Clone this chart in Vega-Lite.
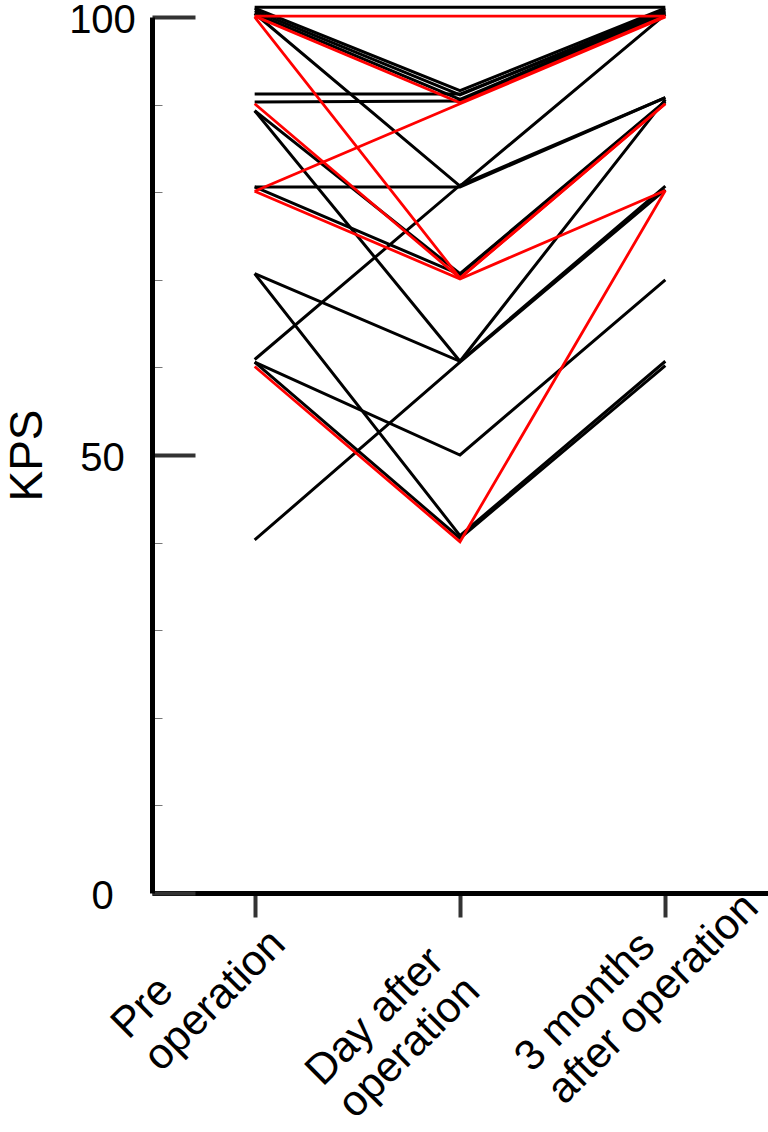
{
  "$schema": "https://vega.github.io/schema/vega-lite/v6.json",
  "width": 616,
  "height": 876,
  "autosize": "none",
  "padding": {"left": 152, "top": 17, "right": 0, "bottom": 239},
  "config": {"view": {"stroke": null}, "font": "Liberation Sans"},
  "data": {"values": [
    {"patient": 1, "group": "A", "time": "Pre operation", "step": 1, "kps": 101.1},
    {"patient": 1, "group": "A", "time": "Day after operation", "step": 2, "kps": 101.1},
    {"patient": 1, "group": "A", "time": "3 months after operation", "step": 3, "kps": 101.1},
    {"patient": 2, "group": "A", "time": "Pre operation", "step": 1, "kps": 101.0},
    {"patient": 2, "group": "A", "time": "Day after operation", "step": 2, "kps": 91.6},
    {"patient": 2, "group": "A", "time": "3 months after operation", "step": 3, "kps": 101.0},
    {"patient": 3, "group": "A", "time": "Pre operation", "step": 1, "kps": 100.7},
    {"patient": 3, "group": "A", "time": "Day after operation", "step": 2, "kps": 91.1},
    {"patient": 3, "group": "A", "time": "3 months after operation", "step": 3, "kps": 100.8},
    {"patient": 4, "group": "A", "time": "Pre operation", "step": 1, "kps": 100.4},
    {"patient": 4, "group": "A", "time": "Day after operation", "step": 2, "kps": 90.6},
    {"patient": 4, "group": "A", "time": "3 months after operation", "step": 3, "kps": 100.6},
    {"patient": 5, "group": "A", "time": "Pre operation", "step": 1, "kps": 100.4},
    {"patient": 5, "group": "A", "time": "Day after operation", "step": 2, "kps": 80.7},
    {"patient": 5, "group": "A", "time": "3 months after operation", "step": 3, "kps": 100.3},
    {"patient": 6, "group": "A", "time": "Pre operation", "step": 1, "kps": 91.2},
    {"patient": 6, "group": "A", "time": "Day after operation", "step": 2, "kps": 91.2},
    {"patient": 6, "group": "A", "time": "3 months after operation", "step": 3, "kps": 100.5},
    {"patient": 7, "group": "A", "time": "Pre operation", "step": 1, "kps": 90.3},
    {"patient": 7, "group": "A", "time": "Day after operation", "step": 2, "kps": 90.4},
    {"patient": 7, "group": "A", "time": "3 months after operation", "step": 3, "kps": 100.4},
    {"patient": 8, "group": "A", "time": "Pre operation", "step": 1, "kps": 89.3},
    {"patient": 8, "group": "A", "time": "Day after operation", "step": 2, "kps": 70.7},
    {"patient": 8, "group": "A", "time": "3 months after operation", "step": 3, "kps": 90.4},
    {"patient": 9, "group": "A", "time": "Pre operation", "step": 1, "kps": 89.3},
    {"patient": 9, "group": "A", "time": "Day after operation", "step": 2, "kps": 60.7},
    {"patient": 9, "group": "A", "time": "3 months after operation", "step": 3, "kps": 90.6},
    {"patient": 10, "group": "A", "time": "Pre operation", "step": 1, "kps": 80.6},
    {"patient": 10, "group": "A", "time": "Day after operation", "step": 2, "kps": 80.6},
    {"patient": 10, "group": "A", "time": "3 months after operation", "step": 3, "kps": 90.8},
    {"patient": 11, "group": "A", "time": "Pre operation", "step": 1, "kps": 80.6},
    {"patient": 11, "group": "A", "time": "Day after operation", "step": 2, "kps": 70.6},
    {"patient": 11, "group": "A", "time": "3 months after operation", "step": 3, "kps": 90.3},
    {"patient": 12, "group": "A", "time": "Pre operation", "step": 1, "kps": 70.7},
    {"patient": 12, "group": "A", "time": "Day after operation", "step": 2, "kps": 60.7},
    {"patient": 12, "group": "A", "time": "3 months after operation", "step": 3, "kps": 80.7},
    {"patient": 13, "group": "A", "time": "Pre operation", "step": 1, "kps": 70.7},
    {"patient": 13, "group": "A", "time": "Day after operation", "step": 2, "kps": 40.8},
    {"patient": 13, "group": "A", "time": "3 months after operation", "step": 3, "kps": 60.7},
    {"patient": 14, "group": "A", "time": "Pre operation", "step": 1, "kps": 60.9},
    {"patient": 14, "group": "A", "time": "Day after operation", "step": 2, "kps": 80.8},
    {"patient": 14, "group": "A", "time": "3 months after operation", "step": 3, "kps": 90.8},
    {"patient": 15, "group": "A", "time": "Pre operation", "step": 1, "kps": 60.6},
    {"patient": 15, "group": "A", "time": "Day after operation", "step": 2, "kps": 50.0},
    {"patient": 15, "group": "A", "time": "3 months after operation", "step": 3, "kps": 70.0},
    {"patient": 16, "group": "A", "time": "Pre operation", "step": 1, "kps": 60.6},
    {"patient": 16, "group": "A", "time": "Day after operation", "step": 2, "kps": 40.5},
    {"patient": 16, "group": "A", "time": "3 months after operation", "step": 3, "kps": 60.2},
    {"patient": 17, "group": "A", "time": "Pre operation", "step": 1, "kps": 40.3},
    {"patient": 17, "group": "A", "time": "Day after operation", "step": 2, "kps": 60.6},
    {"patient": 17, "group": "A", "time": "3 months after operation", "step": 3, "kps": 80.3},
    {"patient": 18, "group": "B", "time": "Pre operation", "step": 1, "kps": 100.1},
    {"patient": 18, "group": "B", "time": "Day after operation", "step": 2, "kps": 100.1},
    {"patient": 18, "group": "B", "time": "3 months after operation", "step": 3, "kps": 100.1},
    {"patient": 19, "group": "B", "time": "Pre operation", "step": 1, "kps": 100.1},
    {"patient": 19, "group": "B", "time": "Day after operation", "step": 2, "kps": 90.2},
    {"patient": 19, "group": "B", "time": "3 months after operation", "step": 3, "kps": 100.1},
    {"patient": 20, "group": "B", "time": "Pre operation", "step": 1, "kps": 80.1},
    {"patient": 20, "group": "B", "time": "Day after operation", "step": 2, "kps": 90.1},
    {"patient": 20, "group": "B", "time": "3 months after operation", "step": 3, "kps": 100.0},
    {"patient": 21, "group": "B", "time": "Pre operation", "step": 1, "kps": 100.0},
    {"patient": 21, "group": "B", "time": "Day after operation", "step": 2, "kps": 70.2},
    {"patient": 21, "group": "B", "time": "3 months after operation", "step": 3, "kps": 90.1},
    {"patient": 22, "group": "B", "time": "Pre operation", "step": 1, "kps": 90.1},
    {"patient": 22, "group": "B", "time": "Day after operation", "step": 2, "kps": 70.2},
    {"patient": 22, "group": "B", "time": "3 months after operation", "step": 3, "kps": 90.1},
    {"patient": 23, "group": "B", "time": "Pre operation", "step": 1, "kps": 80.1},
    {"patient": 23, "group": "B", "time": "Day after operation", "step": 2, "kps": 70.1},
    {"patient": 23, "group": "B", "time": "3 months after operation", "step": 3, "kps": 80.2},
    {"patient": 24, "group": "B", "time": "Pre operation", "step": 1, "kps": 60.1},
    {"patient": 24, "group": "B", "time": "Day after operation", "step": 2, "kps": 40.1},
    {"patient": 24, "group": "B", "time": "3 months after operation", "step": 3, "kps": 80.2}
  ]},
  "encoding": {
    "x": {
      "field": "time", "type": "nominal",
      "sort": ["Pre operation", "Day after operation", "3 months after operation"],
      "scale": {"type": "point", "padding": 0.5},
      "axis": {
        "title": null,
        "domainColor": "#000000", "domainWidth": 5,
        "tickColor": "#333333", "tickWidth": 4, "tickSize": 24,
        "labelFont": "Liberation Sans", "labelFontSize": 43, "labelColor": "#000000",
        "labelAngle": -45, "labelAlign": "left", "labelBaseline": "alphabetic",
        "labelLineHeight": 46, "labelLimit": 0,
        "labelOverlap": false, "labelBound": false, "labelFlush": false,
        "labelExpr": "datum.value === 'Pre operation' ? ['Pre', 'operation'] : datum.value === 'Day after operation' ? ['Day after', 'operation'] : ['3 months', 'after operation']",
        "labelOffset": {"condition": [{"test": "datum.value === 'Pre operation'", "value": -127}, {"test": "datum.value === 'Day after operation'", "value": -138}], "value": -134},
        "labelPadding": {"condition": [{"test": "datum.value === 'Pre operation'", "value": 123}, {"test": "datum.value === 'Day after operation'", "value": 170}], "value": 156}
      }
    },
    "y": {
      "field": "kps", "type": "quantitative",
      "scale": {"domain": [0, 100], "nice": false, "zero": true},
      "axis": {
        "title": "KPS", "titleFont": "Liberation Sans", "titleFontSize": 46, "titleFontWeight": "normal", "titleColor": "#000000", "titlePadding": 17,
        "values": [0, 10, 20, 30, 40, 50, 60, 70, 80, 90, 100],
        "grid": false,
        "domainColor": "#000000", "domainWidth": 5,
        "tickColor": {"condition": {"test": "datum.value % 50 === 0", "value": "#333333"}, "value": "#777777"},
        "tickWidth": {"condition": {"test": "datum.value % 50 === 0", "value": 4}, "value": 1},
        "tickSize": {"condition": {"test": "datum.value % 50 === 0", "value": -43}, "value": -10},
        "labelExpr": "datum.value % 50 === 0 ? datum.label : ''",
        "labelFont": "Liberation Sans", "labelFontSize": 40, "labelColor": "#000000",
        "labelAlign": "center", "labelBaseline": "middle", "labelPadding": 93, "labelOffset": 3,
        "labelOverlap": false, "labelBound": false, "labelFlush": false
      }
    },
    "color": {"field": "group", "type": "nominal", "scale": {"domain": ["A", "B"], "range": ["#000000", "#ff0000"]}, "legend": null},
    "detail": {"field": "patient", "type": "nominal"},
    "order": {"field": "step", "type": "quantitative"}
  },
  "layer": [
    {"transform": [{"filter": "datum.group === 'A'"}], "mark": {"type": "line", "strokeWidth": 3, "clip": false}},
    {"transform": [{"filter": "datum.group === 'B'"}], "mark": {"type": "line", "strokeWidth": 2.8, "clip": false}}
  ]
}
